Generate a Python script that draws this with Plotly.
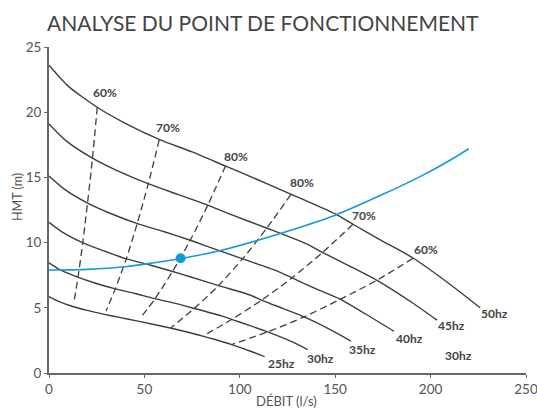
import plotly.graph_objects as go

# Pump curves (Q in l/s, H in m)
q50 = [0, 10, 25, 40, 58, 75, 92, 105, 127, 150, 160, 175, 191, 212, 226]
h50 = [23.6, 22.0, 20.4, 19.15, 17.9, 16.95, 15.9, 15.1, 13.7, 12.2, 11.35, 10.1, 8.8, 6.6, 5.0]
q45 = [0, 9, 22.5, 36, 52.2, 67.5, 82.8, 94.5, 114.3, 135, 144, 157.5, 171.9, 190.8, 203.4]
h45 = [19.1, 17.8, 16.5, 15.5, 14.5, 13.7, 12.9, 12.2, 11.1, 9.9, 9.2, 8.2, 7.1, 5.35, 4.05]
q40 = [0, 8, 20, 32, 46.4, 60, 73.6, 84, 101.6, 120, 128, 140, 152.8, 169.6, 180.8]
h40 = [15.1, 14.1, 13.05, 12.25, 11.45, 10.85, 10.2, 9.65, 8.75, 7.8, 7.25, 6.45, 5.65, 4.2, 3.2]
q35 = [0, 7, 17.5, 28, 40.6, 52.5, 64.4, 73.5, 88.9, 105, 112, 122.5, 133.7, 148.4, 158.2]
h35 = [11.55, 10.8, 10.0, 9.4, 8.75, 8.3, 7.8, 7.4, 6.7, 6.0, 5.55, 4.95, 4.3, 3.25, 2.45]
q30 = [0, 6, 15, 24, 34.8, 45, 55.2, 63, 76.2, 90, 96, 105, 114.6, 127.2, 135.6]
h30 = [8.45, 7.9, 7.35, 6.9, 6.45, 6.1, 5.7, 5.45, 4.95, 4.4, 4.1, 3.65, 3.15, 2.4, 1.8]
q25 = [0, 5, 12.5, 20, 29, 37.5, 46, 52.5, 63.5, 75, 80, 87.5, 95.5, 106, 113]
h25 = [5.85, 5.5, 5.1, 4.8, 4.5, 4.25, 4.0, 3.8, 3.45, 3.05, 2.85, 2.55, 2.2, 1.65, 1.25]

# Iso-efficiency dashed lines
eff1_q = [25.3, 22.8, 20.2, 17.7, 15.2, 13.1]
eff1_h = [20.4, 16.5, 13.05, 10.0, 7.35, 5.45]
eff2_q = [57.8, 52.0, 46.2, 40.5, 34.7, 29.9]
eff2_h = [17.9, 14.5, 11.45, 8.75, 6.45, 4.75]
eff3_q = [92.6, 83.3, 74.1, 64.8, 55.6, 48.0]
eff3_h = [15.9, 12.9, 10.2, 7.8, 5.7, 4.25]
eff4_q = [126.8, 114.1, 101.4, 88.8, 76.1, 63.8]
eff4_h = [13.7, 11.1, 8.75, 6.7, 4.95, 3.45]
eff5_q = [159.3, 143.4, 127.4, 111.5, 95.6, 80.9]
eff5_h = [11.4, 9.25, 7.3, 5.6, 4.1, 2.85]
eff6_q = [190.8, 171.7, 152.6, 133.6, 114.5, 96.1]
eff6_h = [8.8, 7.1, 5.65, 4.3, 3.15, 2.2]

# System curve
sys_q = [0, 20, 40, 55, 70, 90, 110, 130, 150, 175, 195, 210, 220]
sys_h = [7.9, 7.95, 8.15, 8.45, 8.8, 9.4, 10.2, 11.1, 12.1, 13.7, 15.1, 16.3, 17.2]
op_q = [69]
op_h = [8.8]

# Labels
eff_labels = ["60%", "70%", "80%", "80%", "70%", "60%"]
eff_lab_x = [29.4, 62.5, 98, 132.6, 165.2, 197.7]
eff_lab_y = [21.5, 18.8, 16.6, 14.6, 12.1, 9.5]
hz_labels = ["50hz", "45hz", "40hz", "35hz", "30hz", "25hz", "30hz"]
hz_lab_x = [233.3, 211.1, 188.8, 164.3, 142.5, 122, 214.8]
hz_lab_y = [4.55, 3.66, 2.68, 1.8, 1.13, 0.7, 1.33]

x_ticks = [0, 50, 100, 150, 200, 250]
y_ticks = [0, 5, 10, 15, 20, 25]

CURVE = "#3d3d3d"
BLUE = "#149ad8"
FONT = "Lato"

fig = go.Figure()
for q, h in [(q50, h50), (q45, h45), (q40, h40), (q35, h35), (q30, h30), (q25, h25)]:
    fig.add_trace(go.Scatter(x=q, y=h, mode="lines", line=dict(color=CURVE, width=1.4, shape="spline", smoothing=0.6),
                             showlegend=False, hoverinfo="skip"))
for q, h in [(eff1_q, eff1_h), (eff2_q, eff2_h), (eff3_q, eff3_h), (eff4_q, eff4_h), (eff5_q, eff5_h), (eff6_q, eff6_h)]:
    fig.add_trace(go.Scatter(x=q, y=h, mode="lines", line=dict(color=CURVE, width=1.3, dash="7px,4px", shape="spline", smoothing=0.8),
                             showlegend=False, hoverinfo="skip"))
fig.add_trace(go.Scatter(x=sys_q, y=sys_h, mode="lines", line=dict(color=BLUE, width=1.6, shape="spline", smoothing=0.8),
                         showlegend=False, hoverinfo="skip"))
fig.add_trace(go.Scatter(x=op_q, y=op_h, mode="markers", marker=dict(color=BLUE, size=10),
                         showlegend=False, hoverinfo="skip"))

for t, x, y in zip(eff_labels, eff_lab_x, eff_lab_y):
    fig.add_annotation(x=x, y=y, text="<b>%s</b>" % t, showarrow=False,
                       font=dict(family=FONT, size=12, color="#444"))
for t, x, y in zip(hz_labels, hz_lab_x, hz_lab_y):
    fig.add_annotation(x=x, y=y, text="<b>%s</b>" % t, showarrow=False,
                       font=dict(family=FONT, size=12, color="#444"))

fig.add_annotation(xref="paper", yref="paper", x=-31/477, y=0.54, text="HMT (m)", textangle=-90,
                   xanchor="center", yanchor="middle",
                   showarrow=False, font=dict(family=FONT, size=12.5, color="#555"))
fig.add_annotation(xref="paper", yref="paper", x=0.497, y=-28/326, text="DÉBIT (l/s)",
                   xanchor="center", yanchor="middle",
                   showarrow=False, font=dict(family=FONT, size=13, color="#555"))

fig.update_layout(
    width=537, height=410,
    margin=dict(l=49, r=11, t=47, b=37),
    paper_bgcolor="white", plot_bgcolor="white",
    title=dict(text="ANALYSE DU POINT DE FONCTIONNEMENT", x=47/537, xanchor="left",
               y=1 - 24/410, yanchor="middle", yref="container", automargin=False,
               font=dict(family=FONT, size=21, color="#444")),
    xaxis=dict(range=[0, 250], tickvals=x_ticks, showgrid=False, zeroline=False, automargin=False,
               showline=True, linecolor="#666", linewidth=2, ticks="outside", ticklen=3,
               ticklabeloverflow="allow",
               tickcolor="#666", tickfont=dict(family=FONT, size=13.5, color="#555")),
    yaxis=dict(range=[0, 25], tickvals=y_ticks, showgrid=False, zeroline=False, automargin=False,
               showline=True, linecolor="#666", linewidth=2, ticks="outside", ticklen=3,
               ticklabeloverflow="allow",
               tickcolor="#666", tickfont=dict(family=FONT, size=13.5, color="#555")),
)

fig.write_html("out.html", config={"displayModeBar": False},
               post_script="document.body.style.margin='0';")
